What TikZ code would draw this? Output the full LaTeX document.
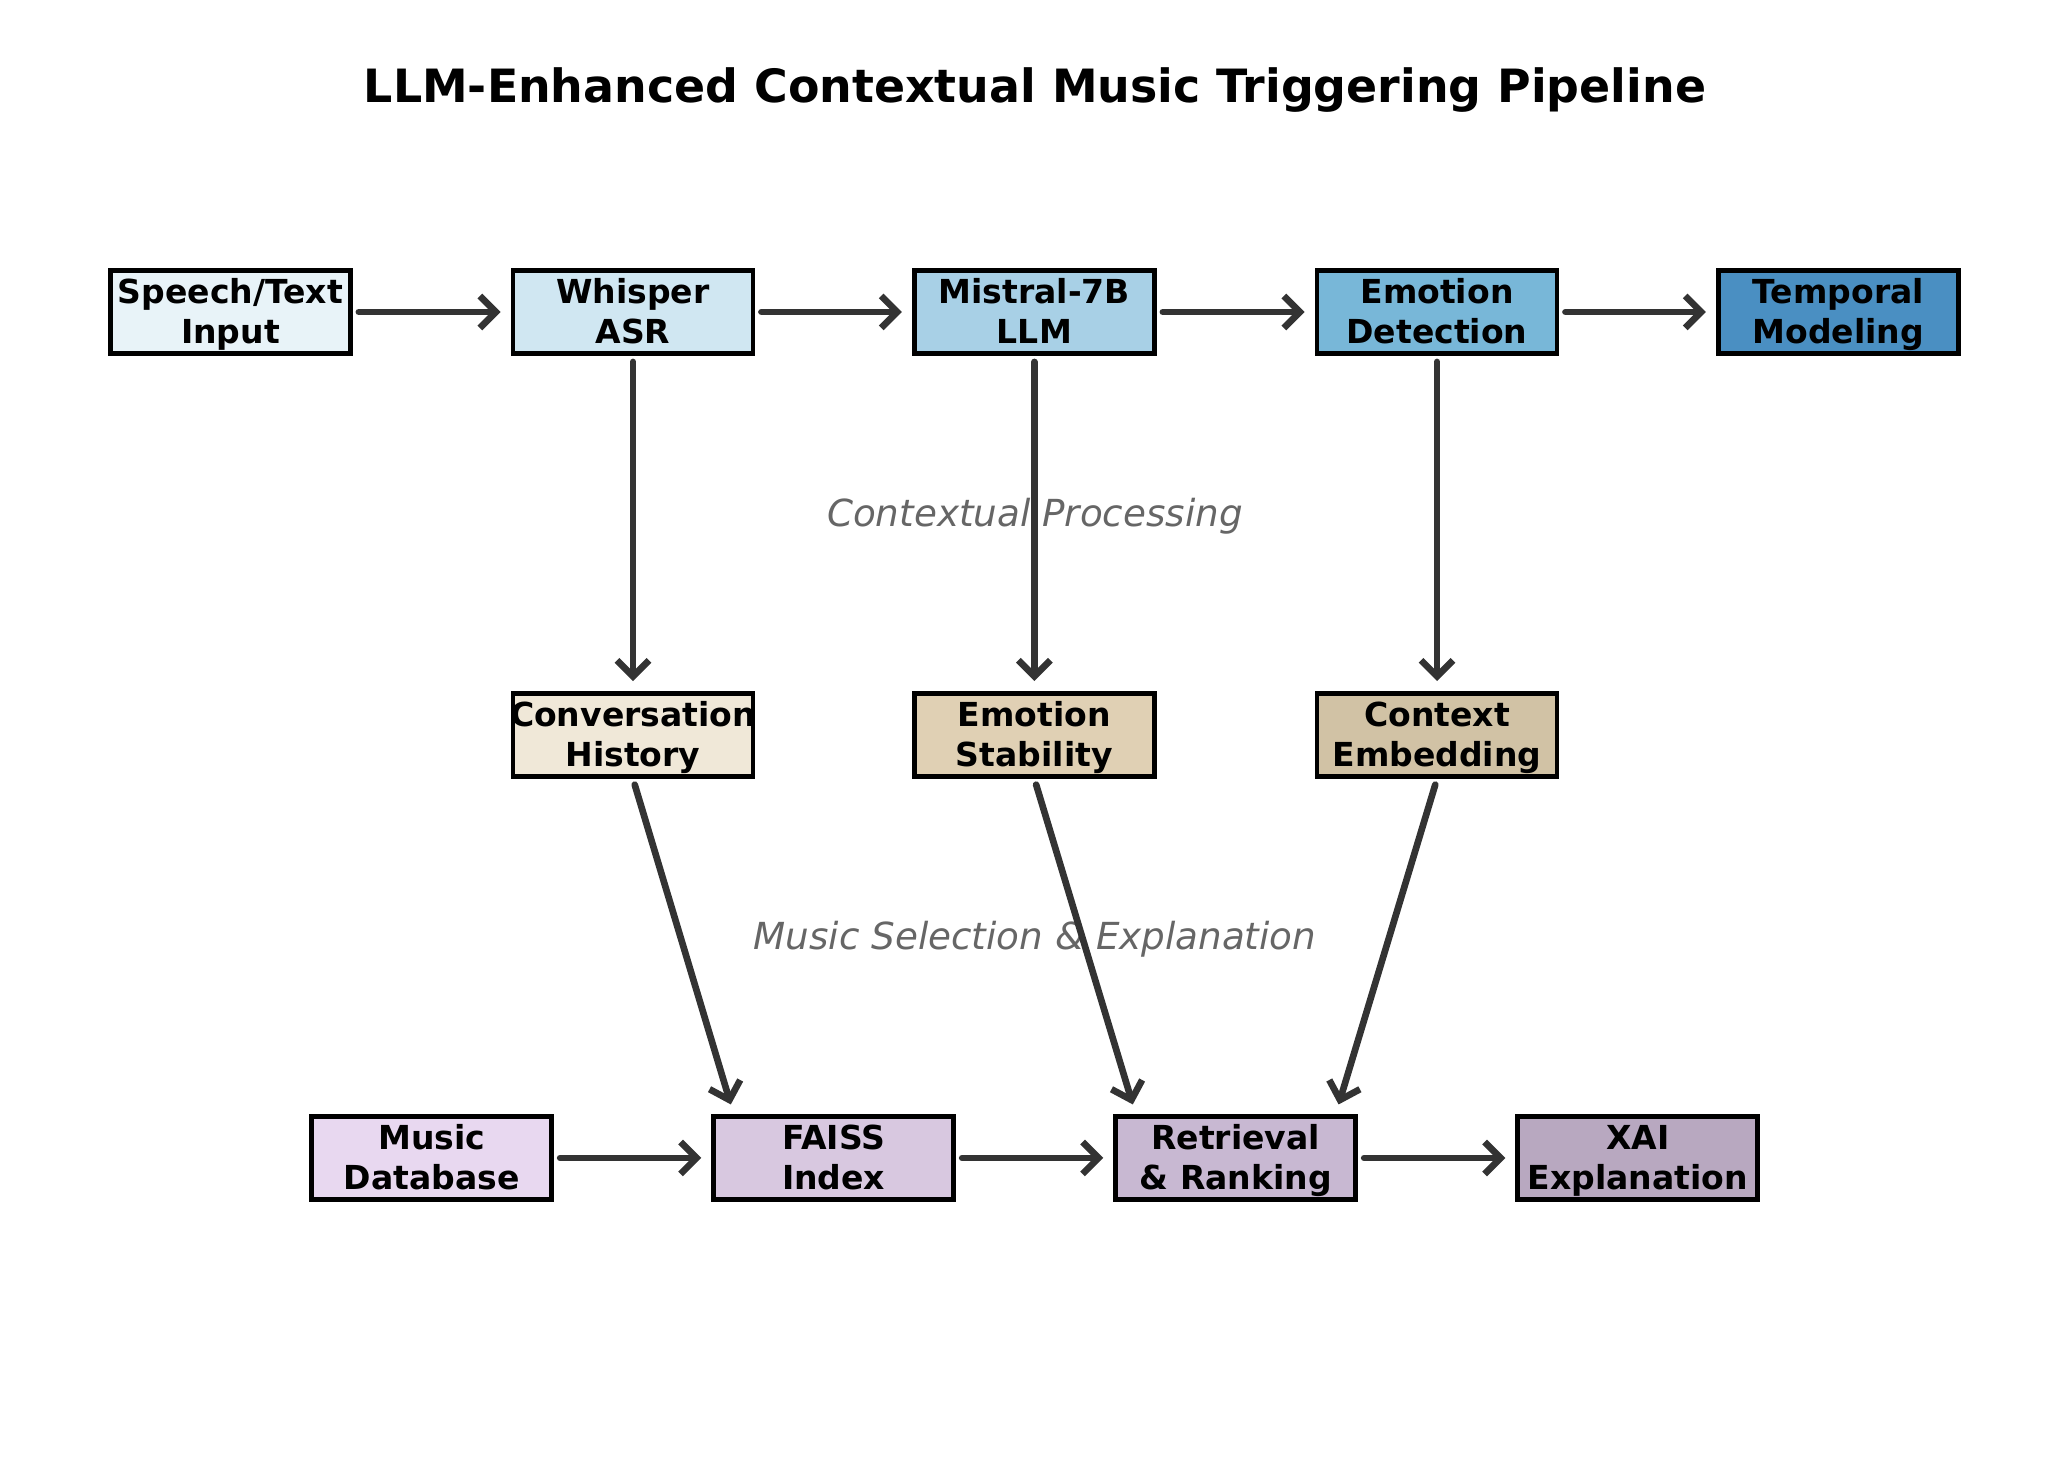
\documentclass[tikz,border=0pt]{standalone}
\usepackage{fontspec}
\setmainfont{DejaVu Sans}
\usetikzlibrary{arrows.meta,calc}

\definecolor{inA}{HTML}{E8F3F8}
\definecolor{inB}{HTML}{D0E7F2}
\definecolor{inC}{HTML}{A8D0E6}
\definecolor{inD}{HTML}{78B7D8}
\definecolor{inE}{HTML}{4A8FC2}
\definecolor{ctxA}{HTML}{F0E8D8}
\definecolor{ctxB}{HTML}{E0D0B4}
\definecolor{ctxC}{HTML}{D1C2A5}
\definecolor{selA}{HTML}{E8D8F0}
\definecolor{selB}{HTML}{D8C8E0}
\definecolor{selC}{HTML}{C8B8D2}
\definecolor{selD}{HTML}{B8A8C0}
\definecolor{arrowgray}{HTML}{333333}
\definecolor{notegray}{HTML}{666666}

\tikzset{
  block/.style={draw=black, line width=1.4pt, minimum width=2.4cm, minimum height=0.83cm, inner sep=0pt},
  blocktext/.style={font=\bfseries\fontsize{9.4}{11.4}\selectfont, align=center, inner sep=0pt, yshift=-1.5pt,
    execute at begin node=\strut, execute at end node=\strut},
  flow/.style={-{Straight Barb[length=1.6mm,width=3.2mm]}, draw=arrowgray, line width=1.9pt, line cap=round, line join=round, shorten <=0.06cm, shorten >=0.1cm},
  stage/.style={font=\itshape\fontsize{10.6}{12}\selectfont, text=notegray}
}

\begin{document}
\begin{tikzpicture}
	\useasboundingbox (0,0) rectangle (20.7,14.7);
	\node[font=\bfseries\fontsize{13.05}{15}\selectfont] (title) at (10.35,13.80) {LLM-Enhanced Contextual Music Triggering Pipeline};

	% input row
	\node[block, fill=inA, label={[blocktext]center:Speech/Text\\Input}] (input) at (2.304,11.58) {};
	\node[block, fill=inB, label={[blocktext]center:Whisper\\ASR}] (asr) at (6.330,11.58) {};
	\node[block, fill=inC, label={[blocktext]center:Mistral-7B\\LLM}] (llm) at (10.344,11.58) {};
	\node[block, fill=inD, label={[blocktext]center:Emotion\\Detection}] (emo) at (14.370,11.58) {};
	\node[block, fill=inE, label={[blocktext]center:Temporal\\Modeling}] (temp) at (18.384,11.58) {};

	% context row
	\node[block, fill=ctxA, label={[blocktext]center:Conversation\\History}] (hist) at (6.330,7.35) {};
	\node[block, fill=ctxB, label={[blocktext]center:Emotion\\Stability}] (stab) at (10.344,7.35) {};
	\node[block, fill=ctxC, label={[blocktext]center:Context\\Embedding}] (embed) at (14.370,7.35) {};

	% selection row
	\node[block, fill=selA, label={[blocktext]center:Music\\Database}] (db) at (4.317,3.12) {};
	\node[block, fill=selB, label={[blocktext]center:FAISS\\Index}] (faiss) at (8.337,3.12) {};
	\node[block, fill=selC, label={[blocktext]center:Retrieval\\\& Ranking}] (rank) at (12.357,3.12) {};
	\node[block, fill=selD, label={[blocktext]center:XAI\\Explanation}] (xai) at (16.377,3.12) {};

	\node[stage] (procnote) at (10.35,9.54) {Contextual Processing};
	\node[stage] (selnote) at (10.35,5.31) {Music Selection \& Explanation};

	\draw[flow] (input) -- (asr);
	\draw[flow] (asr) -- (llm);
	\draw[flow] (llm) -- (emo);
	\draw[flow] (emo) -- (temp);
	\draw[flow] (asr) -- (hist);
	\draw[flow] (llm) -- (stab);
	\draw[flow] (emo) -- (embed);
	\draw[flow] (hist.south) -- ($(faiss.north)+(-1.0,0)$);
	\draw[flow] (stab.south) -- ($(rank.north)+(-1.0,0)$);
	\draw[flow] (embed.south) -- ($(rank.north)+(1.0,0)$);
	\draw[flow] (db) -- (faiss);
	\draw[flow] (faiss) -- (rank);
	\draw[flow] (rank) -- (xai);
\end{tikzpicture}
\end{document}
